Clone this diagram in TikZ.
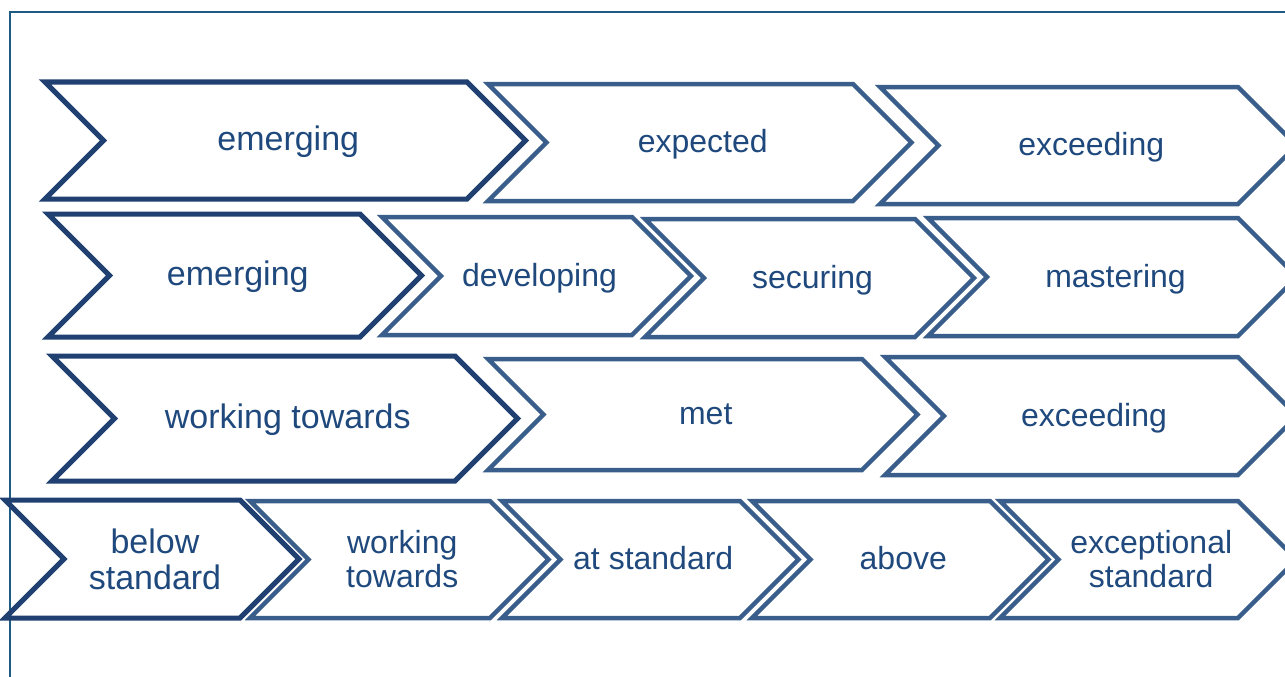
\documentclass[tikz,border=0pt]{standalone}
\usepackage{fontspec}
\setmainfont{Liberation Sans}
\definecolor{chevdark}{RGB}{31,64,112}
\definecolor{chevlight}{RGB}{58,94,140}
\definecolor{chevtext}{RGB}{31,73,125}
\definecolor{framecol}{RGB}{30,90,130}
\begin{document}
\begin{tikzpicture}[x=1pt,y=-1pt,
        chevrest/.style={draw=chevlight, line width=4.5pt},
        chevfirst/.style={draw=chevdark, line width=5pt},
        lblrest/.style={text=chevtext, align=center, inner sep=0pt,
                        font=\fontsize{32}{34}\selectfont},
        lblfirst/.style={lblrest, font=\fontsize{34}{36}\selectfont},
        lblone/.style={anchor=base, yshift=-10pt},
        lbltwo/.style={}]
    \useasboundingbox (0,0) rectangle (1285,677);
    \clip (0,0) rectangle (1285,677);
    % frame
    \draw [framecol, line width=1.5pt] (10,680) -- (10,12) -- (1290,12);
    % chevrons: name/left/top/right/bottom/kind/lines/text
    \foreach \n/\l/\t/\r/\b/\s/\k/\txt in {
            emergeA/45/82/467/199/first/one/{emerging},
            expected/488/84/853/201/rest/one/{expected},
            exceedA/880/87/1238/204/rest/one/{exceeding},
            emergeB/48/214/360/337/first/one/{emerging},
            developing/382/217/632/335/rest/one/{developing},
            securing/645/219/915/337/rest/one/{securing},
            mastering/928/218/1238/336/rest/one/{mastering},
            towardsC/52/356/455/481/first/one/{working towards},
            met/488/359/862/470/rest/one/{met},
            exceedC/885/357/1238/475/rest/one/{exceeding},
            below/5/500/240/618/first/two/{below\\standard},
            towardsD/250/501/490/618/rest/two/{working\\towards},
            atstd/502/501/740/618/rest/one/{at standard},
            above/752/501/990/618/rest/one/{above},
            exceptional/1000/501/1238/618/rest/two/{exceptional\\standard}} {
        \pgfmathsetmacro\h{(\b-\t)/2}
        \pgfmathsetmacro\m{(\t+\b)/2}
        \draw [chev\s] (\l,\t) -- (\r,\t) -- (\r+\h,\m) -- (\r,\b)
            -- (\l,\b) -- (\l+\h,\m) -- cycle;
        \node [lbl\s, lbl\k] (\n) at ({(\l+\r+\h)/2+3},\m) {\txt};
    }
\end{tikzpicture}
\end{document}
